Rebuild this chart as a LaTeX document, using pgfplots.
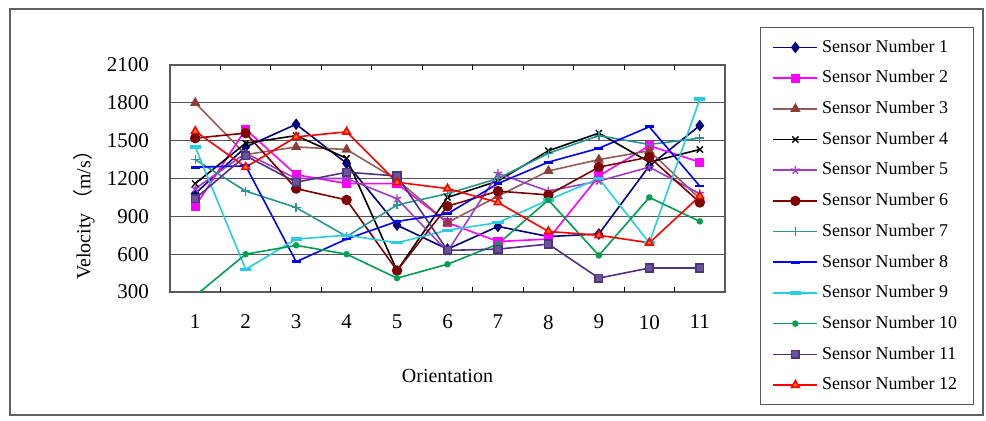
\documentclass[border=0pt]{standalone}
\usepackage{fontspec}
\setmainfont{Liberation Serif}
\newfontfamily\cjk{Noto Sans CJK SC}
\usepackage{pgfplots}
\usepackage{pgfplotstable}
\pgfplotsset{compat=1.18}

% series colours
\definecolor{cA}{RGB}{0,0,128}
\definecolor{cB}{RGB}{255,0,255}
\definecolor{cC}{RGB}{150,92,92}
\definecolor{cCm}{RGB}{140,62,52}
\definecolor{cD}{RGB}{0,0,0}
\definecolor{cE}{RGB}{160,60,200}
\definecolor{cF}{RGB}{128,0,0}
\definecolor{cG}{RGB}{40,150,150}
\definecolor{cH}{RGB}{0,0,255}
\definecolor{cI}{RGB}{40,205,225}
\definecolor{cJ}{RGB}{0,160,80}
\definecolor{cK}{RGB}{80,50,130}
\definecolor{cKm}{RGB}{105,85,150}
\definecolor{cL}{RGB}{255,0,0}
\definecolor{cLm}{RGB}{255,125,20}
\definecolor{gridc}{RGB}{85,85,85}

% velocity (m/s) per orientation, one column per sensor
\pgfplotstableread{
x  S1   S2   S3   S4   S5   S6   S7   S8   S9   S10  S11  S12
1  1080 980  1800 1160 1120 1520 1350 1290 1450 270  1040 1575
2  1450 1590 1390 1480 1400 1560 1100 1300 480  600  1380 1290
3  1630 1230 1450 1540 1200 1120 970  540  720  670  1170 1530
4  1320 1160 1430 1360 1200 1030 740  720  750  600  1250 1570
5  830  1160 1190 470  1040 470  990  860  690  410  1220 1170
6  640  850  850  1050 620  980  1080 920  790  520  630  1120
7  820  700  1060 1180 1240 1100 1200 1160 850  680  640  1010
8  740  720  1260 1420 1100 1070 1400 1330 1030 1030 680  780
9  760  1220 1350 1560 1180 1290 1540 1440 1200 590  410  750
10 1300 1460 1420 1330 1290 1370 1470 1610 690  1050 490  690
11 1620 1330 1040 1430 1080 1010 1520 1140 1830 860  490  1060
}\datatable

\begin{document}
\begin{tikzpicture}
\useasboundingbox (0pt,0pt) rectangle (493pt,210pt);
\draw[gray!75!black, line width=0.7pt] (5pt,2.5pt) rectangle (491.5pt,205.5pt);
\begin{axis}[
  at={(85pt,64pt)}, anchor=south west,
  scale only axis, width=277.5pt, height=113.5pt,
  xmin=0.5, xmax=11.5, ymin=300, ymax=2100,
  xtick={1,...,11}, ytick={300,600,...,2100},
  major tick length=0pt,
  extra x ticks={1.5,2.5,...,10.5},
  extra x tick labels={},
  extra x tick style={major tick length=2.5pt, tick align=inside, grid=none,
    tick style={black, line width=0.5pt}},
  ymajorgrids,
  grid style={gridc, line width=0.6pt},
  axis line style={gray!70!black, line width=0.6pt},
  /pgf/number format/assume math mode=true,
  /pgf/number format/1000 sep={},
  ticklabel style={font=\fontsize{10.5}{12}\selectfont},
  xticklabel style={yshift=-8pt},
  yticklabel style={xshift=-7pt},
  xlabel={Orientation},
  ylabel={Velocity\,{\cjk （}m/s{\cjk ）}},
  label style={font=\fontsize{10.5}{12}\selectfont},
  every axis x label/.style={at={(axis description cs:0.5,-0.37)}, anchor=center},
  every axis y label/.style={at={(axis description cs:-0.155,0.36)}, anchor=center, rotate=90},
  legend image code/.code={\draw[mark repeat=2,mark phase=2,#1] plot coordinates {(0pt,0pt) (11pt,0pt) (22pt,0pt)};},
  legend style={at={(1.063,1.167)}, anchor=north west,
    draw=gray!70!black, line width=0.6pt,
    font=\fontsize{9}{10}\selectfont,
    row sep=3.6pt, inner xsep=6pt, inner ysep=4pt,
    cells={anchor=west}},
  every axis plot/.append style={line width=0.8pt},
]
\addplot[cA, mark=diamond*, mark size=2.3pt] table[x=x, y=S1] {\datatable};
\addlegendentry{Sensor Number 1}
\addplot[cB, mark=square*, mark size=1.9pt] table[x=x, y=S2] {\datatable};
\addlegendentry{Sensor Number 2}
\addplot[cC, mark=triangle*, mark size=2.2pt, mark options={fill=cCm, draw=cCm}] table[x=x, y=S3] {\datatable};
\addlegendentry{Sensor Number 3}
\addplot[cD, mark=x, mark size=2.2pt, mark options={line width=0.7pt}] table[x=x, y=S4] {\datatable};
\addlegendentry{Sensor Number 4}
\addplot[cE, mark=star, mark size=2.2pt, mark options={line width=0.7pt}] table[x=x, y=S5] {\datatable};
\addlegendentry{Sensor Number 5}
\addplot[cF, mark=*, mark size=2.2pt] table[x=x, y=S6] {\datatable};
\addlegendentry{Sensor Number 6}
\addplot[cG, mark=+, mark size=2.2pt, mark options={line width=0.7pt}] table[x=x, y=S7] {\datatable};
\addlegendentry{Sensor Number 7}
\addplot[cH, mark=-, mark size=2.2pt, mark options={line width=1.4pt}] table[x=x, y=S8] {\datatable};
\addlegendentry{Sensor Number 8}
\addplot[cI, mark=-, mark size=2.8pt, mark options={line width=1.6pt}] table[x=x, y=S9] {\datatable};
\addlegendentry{Sensor Number 9}
\addplot[cJ, mark=*, mark size=1.2pt] table[x=x, y=S10] {\datatable};
\addlegendentry{Sensor Number 10}
\addplot[cK, mark=square*, mark size=1.9pt, mark options={fill=cKm, draw=cK}] table[x=x, y=S11] {\datatable};
\addlegendentry{Sensor Number 11}
\addplot[cL, mark=triangle*, mark size=2.2pt, mark options={fill=cLm, draw=cL}] table[x=x, y=S12] {\datatable};
\addlegendentry{Sensor Number 12}
\end{axis}
\end{tikzpicture}
\end{document}
